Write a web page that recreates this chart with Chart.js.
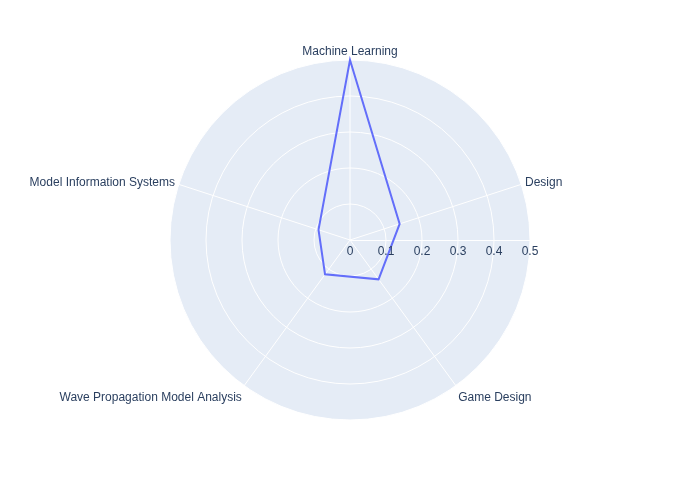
<!DOCTYPE html>
<html>
<head>
<meta charset="utf-8">
<script src="https://cdn.jsdelivr.net/npm/chart.js@4.4.1/dist/chart.umd.min.js"></script>
<style>
  html, body { margin: 0; padding: 0; background: #ffffff; }
  #wrap { width: 700px; height: 500px; position: relative; }
</style>
</head>
<body>
<div id="wrap"><canvas id="c" width="700" height="500"></canvas></div>
<script>
const categories = ["Machine Learning", "Design", "Game Design", "Wave Propagation Model Analysis", "Model Information Systems"];
const values = [0.5, 0.145, 0.135, 0.118, 0.092];
const radialTicks = [0, 0.1, 0.2, 0.3, 0.4, 0.5];
const tickLabels = ["0", "0.1", "0.2", "0.3", "0.4", "0.5"];

const FONT = '12px "Liberation Sans", Arial, sans-serif';
const TEXT = '#2a3f5f';

const polarDecor = {
  id: 'polarDecor',
  beforeDraw(chart) {
    const s = chart.scales.r;
    const ctx = chart.ctx;
    ctx.save();
    ctx.fillStyle = '#E5ECF6';
    ctx.beginPath();
    ctx.arc(s.xCenter, s.yCenter, s.drawingArea, 0, Math.PI * 2);
    ctx.fill();
    ctx.restore();
  },
  beforeDatasetsDraw(chart) {
    const s = chart.scales.r;
    const ctx = chart.ctx;
    ctx.save();
    ctx.strokeStyle = '#ffffff';
    ctx.lineWidth = 1;
    ctx.beginPath();
    ctx.moveTo(s.xCenter, s.yCenter + 0.5);
    ctx.lineTo(s.xCenter + s.getDistanceFromCenterForValue(radialTicks[radialTicks.length - 1]), s.yCenter + 0.5);
    ctx.stroke();
    ctx.restore();
  },
  afterDraw(chart) {
    const s = chart.scales.r;
    const ctx = chart.ctx;
    ctx.save();
    ctx.font = FONT;
    ctx.fillStyle = TEXT;
    ctx.textAlign = 'center';
    ctx.textBaseline = 'middle';
    radialTicks.forEach((v, i) => {
      const x = s.xCenter + s.getDistanceFromCenterForValue(v);
      ctx.fillText(tickLabels[i], x, s.yCenter + 12);
    });
    categories.forEach((lab, i) => {
      const p = s.getPointPosition(i, s.drawingArea + 4);
      const c = Math.cos(p.angle), sn = Math.sin(p.angle);
      ctx.textAlign = c > 0.3 ? 'left' : (c < -0.3 ? 'right' : 'center');
      let y = p.y;
      if (sn < -0.5) { ctx.textBaseline = 'bottom'; y += 2; }
      else if (sn > 0.5) { ctx.textBaseline = 'top'; y += 3; }
      else { ctx.textBaseline = 'middle'; }
      ctx.fillText(lab, p.x, y);
    });
    ctx.restore();
  }
};

new Chart(document.getElementById('c'), {
  type: 'radar',
  data: {
    labels: categories,
    datasets: [{
      data: values,
      borderColor: '#636efa',
      borderWidth: 2,
      fill: false,
      pointRadius: 0,
      pointHoverRadius: 0,
      tension: 0
    }]
  },
  options: {
    responsive: false,
    animation: false,
    devicePixelRatio: 1,
    layout: { padding: { top: 60, bottom: 80, left: 0, right: 0 } },
    plugins: { legend: { display: false }, tooltip: { enabled: false } },
    scales: {
      r: {
        min: 0,
        max: 0.5,
        ticks: { display: false, stepSize: 0.1 },
        pointLabels: { display: false },
        grid: { circular: true, color: '#ffffff', lineWidth: 1 },
        angleLines: { color: '#ffffff', lineWidth: 1 }
      }
    }
  },
  plugins: [polarDecor]
});
</script>
</body>
</html>
